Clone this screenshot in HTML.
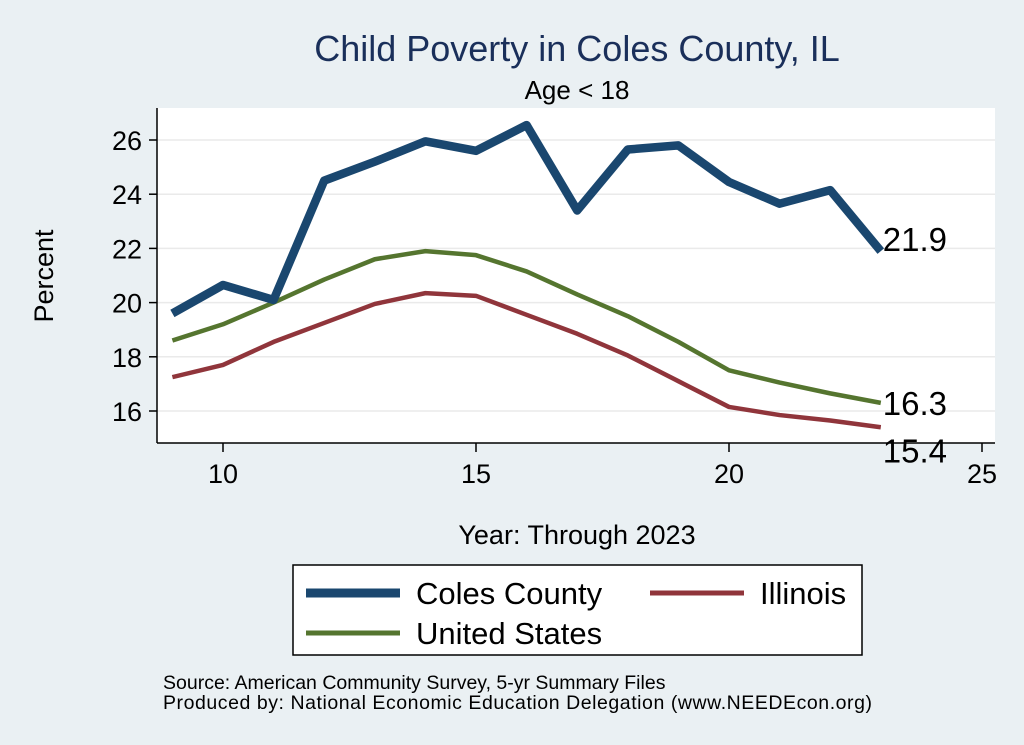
<!DOCTYPE html>
<html><head><meta charset="utf-8"><style>
body{margin:0;background:#eaf0f3;}
svg{display:block;font-family:"Liberation Sans",Arial,sans-serif;}
</style></head><body>
<svg width="1024" height="745" viewBox="0 0 1024 745">
<rect width="1024" height="745" fill="#eaf0f3"/>
<text x="577" y="61" text-anchor="middle" font-size="36" fill="#1a2f5a">Child Poverty in Coles County, IL</text>
<text x="577" y="99" text-anchor="middle" font-size="26" fill="#000">Age &lt; 18</text>
<rect x="157" y="108" width="838" height="335" fill="#fff"/>
<g id="grid"></g><g id="axes"></g><g id="series"></g>
<text x="53" y="276" text-anchor="middle" font-size="27" transform="rotate(-90 53 276)">Percent</text>
<text x="577" y="544" text-anchor="middle" font-size="27">Year: Through 2023</text>
<g>
<rect x="293" y="565" width="569" height="90" fill="#fff" stroke="#000" stroke-width="1.5"/>
<line x1="306" y1="593" x2="400" y2="593" stroke="#1a476f" stroke-width="9"/>
<text x="416" y="604" font-size="31">Coles County</text>
<line x1="650" y1="593" x2="744" y2="593" stroke="#90353b" stroke-width="5"/>
<text x="760" y="604" font-size="31">Illinois</text>
<line x1="306" y1="633" x2="400" y2="633" stroke="#55752f" stroke-width="5"/>
<text x="416" y="644" font-size="31">United States</text>
</g>
<text x="163" y="689" font-size="19.5">Source: American Community Survey, 5-yr Summary Files</text>
<text x="163" y="709" font-size="19.5" textLength="709">Produced by: National Economic Education Delegation (www.NEEDEcon.org)</text>
</svg>
<script>
const years=[9,10,11,12,13,14,15,16,17,18,19,20,21,22,23];
const coles=[19.6,20.65,20.1,24.5,25.2,25.95,25.6,26.55,23.4,25.65,25.8,24.45,23.65,24.15,21.9];
const us=[18.6,19.2,20.0,20.85,21.6,21.9,21.75,21.15,20.3,19.5,18.55,17.5,17.05,16.65,16.3];
const il=[17.25,17.7,18.55,19.25,19.95,20.35,20.25,19.55,18.85,18.05,17.1,16.15,15.85,15.65,15.4];
const xTicks=[10,15,20,25];
const yTicks=[16,18,20,22,24,26];
const NS="http://www.w3.org/2000/svg";
const xs=v=>223+(v-10)*50.6;
const ys=v=>411-(v-16)*27.1;
function mk(t,a,p){const e=document.createElementNS(NS,t);for(const k in a)e.setAttribute(k,a[k]);p.appendChild(e);return e;}
const grid=document.getElementById('grid'),axes=document.getElementById('axes'),ser=document.getElementById('series');
yTicks.forEach(v=>{
const g=mk('line',{x1:157,x2:995,y1:ys(v),y2:ys(v),stroke:'#eaeaea','stroke-width':1.5},grid);


const t=mk('line',{x1:149,x2:157,y1:ys(v),y2:ys(v),stroke:'#000','stroke-width':1.5},axes);


const l=mk('text',{x:142,y:ys(v)+10,'text-anchor':'end','font-size':27},axes);l.textContent=v;


});
xTicks.forEach(v=>{
const t=mk('line',{x1:xs(v),x2:xs(v),y1:443,y2:452,stroke:'#000','stroke-width':1.5},axes);


const l=mk('text',{x:xs(v),y:483,'text-anchor':'middle','font-size':27},axes);l.textContent=v;


});
const ya=mk('line',{x1:157,x2:157,y1:108,y2:443,stroke:'#000','stroke-width':1.5},axes);


const xa=mk('line',{x1:157,x2:995,y1:443,y2:443,stroke:'#000','stroke-width':1.5},axes);


function line(vals,col,w,name,dy){
const p=mk('polyline',{points:years.map((y,i)=>xs(y)+','+ys(vals[i])).join(' '),fill:'none',stroke:col,'stroke-width':w,'stroke-linejoin':'round'},ser);


const last=vals[vals.length-1];
const t=mk('text',{x:xs(years[years.length-1])+2,y:ys(last)+dy,'font-size':33},ser);t.textContent=last.toFixed(1);


}
line(us,'#55752f',4.5,'line-united-states',12);
line(il,'#90353b',4.5,'line-illinois',35);
line(coles,'#1a476f',8.5,'line-coles-county',0);
</script>
</body></html>
